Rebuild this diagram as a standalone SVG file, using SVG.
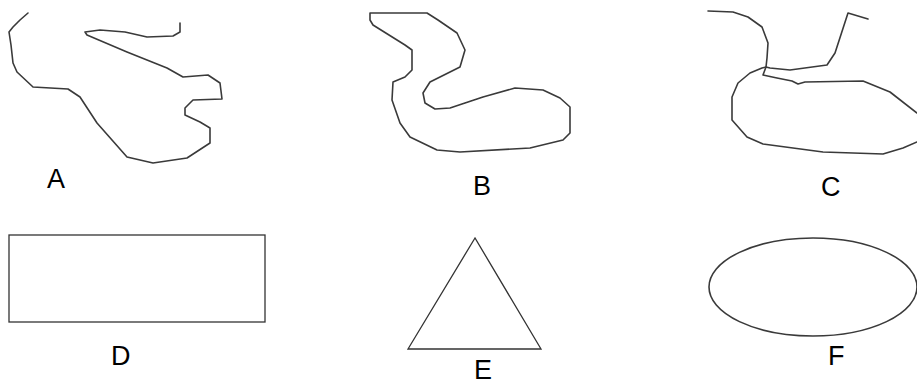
<svg xmlns="http://www.w3.org/2000/svg" width="917" height="385" viewBox="0 0 917 385">
<style>
.sk{fill:none;stroke:#3a3a3a;stroke-width:1.6;stroke-linejoin:round;stroke-linecap:round}
.sh{fill:none;stroke:#333;stroke-width:1.3}
.lb{font-family:"Liberation Sans",Arial,sans-serif;font-size:27px;fill:#000}
</style>
<rect width="917" height="385" fill="#fff"/>
<g id="A">
<path class="sk" d="M28,13 L20,20 L13,27 L9,32 L11,45 L13,63 L17,72 L33,87 L68,89 L80,97 L97,123 L127,157 L153,163 L187,158 L210,143 L210,128 L200,122 L185,115 L185,108 L193,100 L222,99 L220,83 L208,75 L183,77 L167,68 L127,52 L87,35 L85,32 L100,30 L125,32 L147,37 L173,36 L180,32 L180,23"/>
<text class="lb" x="47" y="188">A</text>
</g>
<g id="B">
<path class="sk" d="M370,13 L427,13 L438,20 L457,33 L465,50 L460,67 L430,82 L423,93 L425,103 L435,109 L450,108 L483,97 L515,88 L543,90 L560,98 L570,107 L570,133 L563,140 L530,148 L460,152 L437,150 L410,137 L400,123 L392,100 L393,82 L405,77 L412,70 L412,50 L405,45 L373,25 L370,20 Z"/>
<text class="lb" x="473" y="195">B</text>
</g>
<g id="C">
<path class="sk" d="M708,11 L733,12 L748,17 L762,27 L768,43 L767,58 L766,67 L763,75 L777,78 L792,81 L798,84 L805,82 L863,81 L890,92 L917,113"/>
<path class="sk" d="M917,142 L903,148 L883,154 L823,152 L763,144 L747,137 L732,120 L732,97 L738,83 L750,73 L762,68 L766,67 L770,68 L790,70 L827,65 L835,53 L848,13 L868,19"/>
<text class="lb" x="821" y="196">C</text>
</g>
<g id="D">
<rect class="sh" x="9" y="235" width="256" height="87"/>
<text class="lb" x="111" y="365">D</text>
</g>
<g id="E">
<polygon class="sh" points="475,238 408,349 541,349"/>
<text class="lb" x="474" y="379">E</text>
</g>
<g id="F">
<ellipse class="sk" cx="813" cy="287" rx="104" ry="49"/>
<text class="lb" x="828" y="365">F</text>
</g>
<g id="connectors"/>
</svg>
